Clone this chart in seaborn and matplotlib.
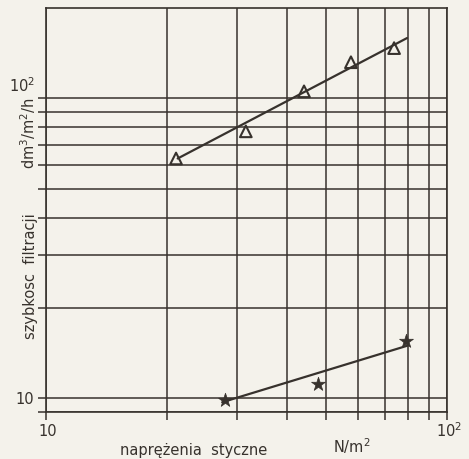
import matplotlib
matplotlib.use("Agg")
import matplotlib.pyplot as plt
import seaborn as sns
import pandas as pd

# ---- data ----
tri_x = [21.1, 31.5, 44.0, 57.6, 73.8]
tri_y = [63.0, 77.6, 105.5, 131.9, 147.0]
tri_fit_x = [21.3, 79.5]
tri_fit_y = [63.0, 158.8]

star_x = [27.9, 47.7, 79.0]
star_y = [9.85, 11.2, 15.5]
star_fit_x = [27.5, 80.0]
star_fit_y = [9.7, 15.0]

x_grid = [10, 20, 30, 40, 50, 60, 70, 80, 90, 100]
y_grid = [9, 10, 20, 30, 40, 50, 60, 70, 80, 90, 100]

paper = "#f4f2eb"
ink = "#37322d"

sns.set_style("white")
plt.rcParams["font.family"] = ["DejaVu Sans"]

W, H = 469, 459
fig = plt.figure(figsize=(W / 100, H / 100), dpi=100, facecolor=paper)
ax = fig.add_axes([46 / W, 1 - 412 / H, (447 - 46) / W, (412 - 8) / H])
ax.set_facecolor(paper)

df_tri = pd.DataFrame({"x": tri_x, "y": tri_y})
df_tri_fit = pd.DataFrame({"x": tri_fit_x, "y": tri_fit_y})
df_star = pd.DataFrame({"x": star_x, "y": star_y})
df_star_fit = pd.DataFrame({"x": star_fit_x, "y": star_fit_y})

sns.lineplot(data=df_tri_fit, x="x", y="y", ax=ax, color=ink, lw=1.6, zorder=4)
sns.lineplot(data=df_star_fit, x="x", y="y", ax=ax, color=ink, lw=1.6, zorder=4)
sns.scatterplot(data=df_tri, x="x", y="y", ax=ax, marker="^", s=70,
                facecolor="none", edgecolor=ink, linewidth=1.5, zorder=5)
sns.scatterplot(data=df_star, x="x", y="y", ax=ax, marker="*", s=110,
                color=ink, edgecolor=ink, linewidth=0.5, zorder=5)

ax.set_xscale("log")
ax.set_yscale("log")
ax.set_xlim(10, 100)
ax.set_ylim(9, 200)
ax.set_xticks(x_grid)
ax.set_yticks(y_grid)
ax.minorticks_off()
ax.set_xticklabels([])
ax.set_yticklabels([])
ax.tick_params(axis="both", which="major", direction="out", length=6,
               width=1.1, color=ink, bottom=True, left=True)
ax.grid(True, which="major", color=ink, lw=1.1)
ax.set_xlabel("")
ax.set_ylabel("")
for s in ax.spines.values():
    s.set_visible(True)
    s.set_color(ink)
    s.set_linewidth(1.2)

fs = 10.5
def px(x, y, s, **kw):
    fig.text(x / W, 1 - y / H, s, color=ink, ha="center", va="center",
             fontsize=fs, **kw)

px(25, 399, "10")
px(22, 86, "10$^2$")
px(48, 431, "10")
px(449, 431, "10$^2$")
px(194, 450, "naprężenia  styczne")
px(352, 446, "N/m$^2$")
px(30, 276, "szybkosc  filtracji", rotation=90)
px(28, 133, "dm$^3$/m$^2$/h", rotation=90)

fig.savefig("out.png", dpi=100, facecolor=paper)
